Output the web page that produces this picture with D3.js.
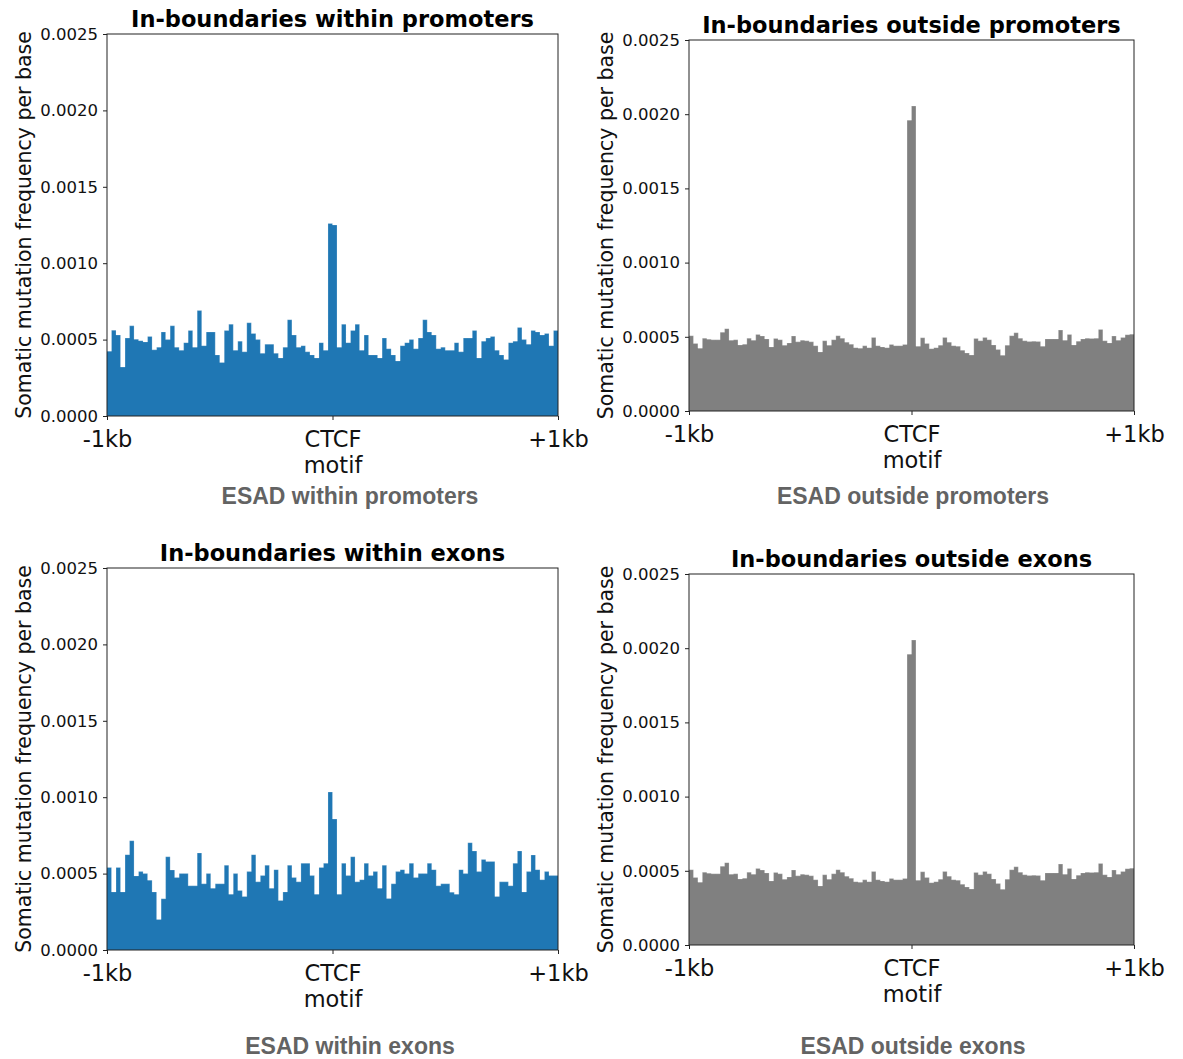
<!DOCTYPE html>
<html>
<head>
<meta charset="utf-8">
<script src="https://cdn.jsdelivr.net/npm/d3@7"></script>
<style>
  body { margin: 0; background: #fff; }
  svg { display: block; }
</style>
</head>
<body>
<svg id="chart"></svg>
<script>
// 100 bins of 20bp from -1kb to +1kb around the CTCF motif
var binEdges = d3.range(0, 101).map(i => -1000 + i * 20);

var withinPromoters = [
    0.000424, 0.000561, 0.00053, 0.00032, 0.00051, 0.00059, 0.000502, 0.000493, 0.000485, 0.00052,
    0.000433, 0.00045, 0.00055, 0.0005, 0.00059, 0.00045, 0.00043, 0.00048, 0.00056, 0.00045,
    0.00069, 0.00046, 0.00055, 0.00055, 0.0004, 0.00035, 0.00056, 0.0006, 0.00043, 0.00049,
    0.00042, 0.00061, 0.00054, 0.0005, 0.00041, 0.00047, 0.00047, 0.00041, 0.00038, 0.00045,
    0.00063, 0.00053, 0.00045, 0.00046, 0.00042, 0.0004, 0.00038, 0.00048, 0.00043, 0.00126,
    0.00125, 0.00045, 0.0006, 0.00048, 0.00056, 0.0006, 0.00043, 0.00053, 0.0004, 0.0004,
    0.00038, 0.00051, 0.00044, 0.0004, 0.00036, 0.00046, 0.00048, 0.0005, 0.00044, 0.00051,
    0.00063, 0.00055, 0.00053, 0.00044, 0.00045, 0.00043, 0.00043, 0.00048, 0.00042, 0.00051,
    0.00051, 0.00056, 0.00038, 0.00049, 0.00051, 0.00052, 0.00043, 0.0004, 0.00037, 0.00048,
    0.00049, 0.00058, 0.0005, 0.00047, 0.00056, 0.00055, 0.00053, 0.00054, 0.00046, 0.00056
];

var outsidePromoters = [
    0.000507, 0.000455, 0.000423, 0.00049, 0.000484, 0.00048, 0.00048, 0.00053, 0.000555, 0.000477,
    0.00048, 0.000445, 0.00045, 0.00049, 0.000477, 0.000516, 0.000505, 0.000486, 0.000432, 0.000489,
    0.00048, 0.000443, 0.000459, 0.000505, 0.000466, 0.000477, 0.000473, 0.000466, 0.00044, 0.000398,
    0.000473, 0.000443, 0.00048, 0.000507, 0.00049, 0.000464, 0.00045, 0.000427, 0.000423, 0.000439,
    0.000427, 0.000495, 0.00044, 0.000432, 0.000427, 0.000448, 0.00044, 0.00044, 0.000448, 0.00196,
    0.002055, 0.000436, 0.000493, 0.000455, 0.00042, 0.000427, 0.000443, 0.000495, 0.000464, 0.00044,
    0.000436, 0.000409, 0.000391, 0.000377, 0.000489, 0.000473, 0.000495, 0.00048, 0.000445, 0.000414,
    0.000375, 0.000443, 0.000507, 0.000527, 0.00049, 0.000473, 0.000468, 0.00047, 0.000468, 0.000436,
    0.000486, 0.000486, 0.000486, 0.000545, 0.000477, 0.000516, 0.000445, 0.00047, 0.000486, 0.00049,
    0.000489, 0.00049, 0.00055, 0.000473, 0.000459, 0.000505, 0.000477, 0.000495, 0.000514, 0.000518
];

var withinExons = [
    0.00054, 0.00038, 0.00054, 0.00038, 0.000624, 0.000715, 0.000485, 0.000513, 0.0005, 0.000457,
    0.00038, 0.0002, 0.000335, 0.00061, 0.000524, 0.000474, 0.0005, 0.0005, 0.00042, 0.00042,
    0.000635, 0.000433, 0.0005, 0.000404, 0.000433, 0.000433, 0.000554, 0.000365, 0.0005, 0.00039,
    0.00035, 0.000513, 0.000624, 0.000446, 0.000487, 0.000554, 0.000404, 0.000526, 0.000324, 0.00038,
    0.000554, 0.000474, 0.000446, 0.000567, 0.000567, 0.000487, 0.000365, 0.00054, 0.000567, 0.001034,
    0.000857, 0.000365, 0.000567, 0.000487, 0.00061, 0.000446, 0.00046, 0.000567, 0.000487, 0.000513,
    0.000404, 0.000554, 0.000337, 0.000433, 0.000513, 0.000526, 0.0005, 0.000567, 0.000474, 0.0005,
    0.0005, 0.000567, 0.000526, 0.00042, 0.000433, 0.000433, 0.000378, 0.000365, 0.000526, 0.0005,
    0.000702, 0.000648, 0.000513, 0.000593, 0.00058, 0.00058, 0.00035, 0.000446, 0.000446, 0.00042,
    0.000567, 0.000648, 0.00038, 0.000513, 0.000622, 0.000526, 0.00046, 0.000513, 0.000487, 0.000487
];

var outsideExons = [
    0.000507, 0.000455, 0.000423, 0.00049, 0.000484, 0.00048, 0.00048, 0.00053, 0.000555, 0.000477,
    0.00048, 0.000445, 0.00045, 0.00049, 0.000477, 0.000516, 0.000505, 0.000486, 0.000432, 0.000489,
    0.00048, 0.000443, 0.000459, 0.000505, 0.000466, 0.000477, 0.000473, 0.000466, 0.00044, 0.000398,
    0.000473, 0.000443, 0.00048, 0.000507, 0.00049, 0.000464, 0.00045, 0.000427, 0.000423, 0.000439,
    0.000427, 0.000495, 0.00044, 0.000432, 0.000427, 0.000448, 0.00044, 0.00044, 0.000448, 0.00196,
    0.002055, 0.000436, 0.000493, 0.000455, 0.00042, 0.000427, 0.000443, 0.000495, 0.000464, 0.00044,
    0.000436, 0.000409, 0.000391, 0.000377, 0.000489, 0.000473, 0.000495, 0.00048, 0.000445, 0.000414,
    0.000375, 0.000443, 0.000507, 0.000527, 0.00049, 0.000473, 0.000468, 0.00047, 0.000468, 0.000436,
    0.000486, 0.000486, 0.000486, 0.000545, 0.000477, 0.000516, 0.000445, 0.00047, 0.000486, 0.00049,
    0.000489, 0.00049, 0.00055, 0.000473, 0.000459, 0.000505, 0.000477, 0.000495, 0.000514, 0.000518
];

var yTicks = [0, 0.0005, 0.001, 0.0015, 0.002, 0.0025];
var xTicks = [-1000, 0, 1000];
var xTickLabels = ["-1kb", "CTCF\nmotif", "+1kb"];
var yLabel = "Somatic mutation frequency per base";

var width = 1183;
var height = 1059;

var svg = d3.select("#chart")
    .attr("width", width)
    .attr("height", height);

var panels = [
    { data: withinPromoters, color: "#1f77b4", title: "In-boundaries within promoters",
      xlabel: "ESAD within promoters", left: 107, top: 34, w: 451, h: 382, xlabelX: 350, xlabelY: 504 },
    { data: outsidePromoters, color: "#808080", title: "In-boundaries outside promoters",
      xlabel: "ESAD outside promoters", left: 689, top: 40, w: 445, h: 371, xlabelX: 913, xlabelY: 504 },
    { data: withinExons, color: "#1f77b4", title: "In-boundaries within exons",
      xlabel: "ESAD within exons", left: 107, top: 568, w: 451, h: 382, xlabelX: 350, xlabelY: 1054 },
    { data: outsideExons, color: "#808080", title: "In-boundaries outside exons",
      xlabel: "ESAD outside exons", left: 689, top: 574, w: 445, h: 371, xlabelX: 913, xlabelY: 1054 }
];

panels.forEach(drawPanel);

function drawPanel(p) {
    var g = svg.append("g")
        .attr("transform", "translate(" + p.left + "," + p.top + ")");

    var x = d3.scaleLinear()
        .domain([-1000, 1000])
        .range([0, p.w]);

    var y = d3.scaleLinear()
        .domain([0, 0.0025])
        .range([p.h, 0]);

    // histogram drawn as one stepped area so neighbouring bins have no seams
    var steps = binEdges.map((e, i) => ({ edge: e, value: p.data[Math.min(i, p.data.length - 1)] }));
    var area = d3.area()
        .curve(d3.curveStepAfter)
        .x(d => x(d.edge))
        .y0(y(0))
        .y1(d => y(d.value));

    g.append("path")
        .datum(steps)
        .attr("d", area)
        .style("fill", p.color)
        .style("stroke", "none");

    // thin light edges where bin heights change, as in the original hist
    g.append("path")
        .datum(steps)
        .attr("d", d3.line().curve(d3.curveStepAfter).x(d => x(d.edge)).y(d => y(d.value)))
        .style("fill", "none")
        .style("stroke", "#ffffff")
        .style("stroke-opacity", 0.35)
        .style("stroke-width", 0.6);

    // y axis
    var gy = g.append("g")
        .call(d3.axisLeft(y)
            .tickValues(yTicks)
            .tickFormat(d3.format(".4f"))
            .tickSize(4)
            .tickPadding(5));
    gy.select(".domain").remove();
    gy.selectAll("line").style("stroke", "#222");
    gy.selectAll("text")
        .style("font-family", "DejaVu Sans")
        .style("font-size", "16.5px")
        .style("fill", "#111");

    // x axis
    var gx = g.append("g")
        .attr("transform", "translate(0," + p.h + ")")
        .call(d3.axisBottom(x)
            .tickValues(xTicks)
            .tickSize(4));
    gx.select(".domain").remove();
    gx.selectAll("line").style("stroke", "#222");
    gx.selectAll("text")
        .attr("y", 0)
        .attr("dy", null)
        .style("font-family", "DejaVu Sans")
        .style("font-size", "22.5px")
        .style("fill", "#111")
        .text(null)
        .each(function(d, i) {
            var lines = xTickLabels[i].split("\n");
            var t = d3.select(this);
            lines.forEach((line, k) => {
                t.append("tspan")
                    .attr("x", 0)
                    .attr("y", 31 + k * 26)
                    .text(line);
            });
        });

    // frame
    g.append("rect")
        .attr("width", p.w)
        .attr("height", p.h)
        .style("fill", "none")
        .style("stroke", "#222")
        .style("stroke-width", 1);

    // title
    g.append("text")
        .attr("x", p.w / 2)
        .attr("y", -7)
        .attr("text-anchor", "middle")
        .style("font-family", "DejaVu Sans")
        .style("font-weight", "bold")
        .style("font-size", "22.5px")
        .style("fill", "#000")
        .text(p.title);

    // y label
    g.append("text")
        .attr("transform", "translate(" + (-76) + "," + (p.h / 2) + ") rotate(-90)")
        .attr("text-anchor", "middle")
        .style("font-family", "DejaVu Sans")
        .style("font-size", "20.5px")
        .style("fill", "#111")
        .text(yLabel);

    // x label under the panel
    svg.append("text")
        .attr("x", p.xlabelX)
        .attr("y", p.xlabelY)
        .attr("text-anchor", "middle")
        .style("font-family", "Liberation Sans, Arial, sans-serif")
        .style("font-weight", "bold")
        .style("font-size", "23px")
        .style("fill", "#636363")
        .text(p.xlabel);
}
</script>
</body>
</html>
